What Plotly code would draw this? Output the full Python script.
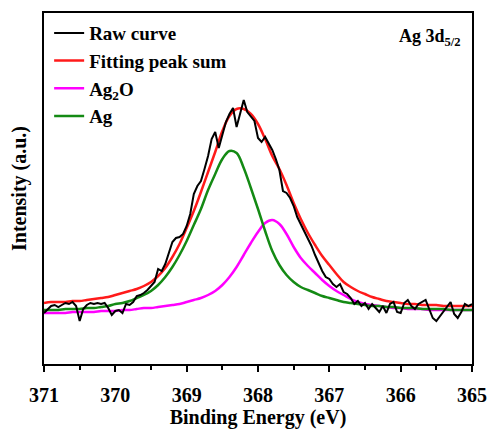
import numpy as np
import plotly.graph_objects as go

# Fit grid (0.1 eV) and raw grid (0.05 eV), binding energy in eV
energy_fit = np.round(np.linspace(371.0, 365.0, 61), 2)
energy_raw = np.round(np.linspace(371.0, 365.0, 121), 2)

ag = [54, 54, 54, 55, 55, 55, 56, 56, 57, 58,
      60, 61, 63, 66, 69, 73, 79, 87, 97, 109,
      123, 139, 155, 174, 190, 205, 213, 211, 196, 176,
      155, 133, 113, 99, 89, 82, 77, 74, 71, 68,
      66, 64, 62, 61, 60, 59, 58, 58, 57, 57,
      56, 56, 56, 55, 55, 55, 55, 54, 54, 54, 54]

ag2o = [51, 51, 51, 51, 52, 52, 52, 52, 53, 53,
        53, 54, 54, 55, 56, 56, 57, 58, 59, 60,
        62, 64, 66, 69, 73, 79, 87, 97, 109, 121,
        132, 141, 144, 140, 130, 117, 106, 98, 91, 84,
        78, 73, 69, 65, 62, 60, 59, 58, 57, 56,
        56, 55, 55, 55, 54, 54, 54, 54, 54, 54, 54]

fit_sum = [61, 62, 62, 62, 63, 63, 64, 65, 66, 67,
           69, 71, 73, 75, 78, 82, 88, 96, 107, 120,
           136, 153, 172, 192, 212, 233, 248, 255, 255, 250,
           240, 225, 208, 195, 179, 161, 145, 131, 119, 108,
           99, 90, 82, 77, 73, 70, 67, 65, 63, 62,
           61, 60, 60, 59, 59, 59, 58, 58, 58, 58, 58]

raw = [51, 55, 58, 59, 57, 59, 61, 60, 62, 58,
       43, 55, 59, 61, 60, 61, 60, 61, 56, 49,
       53, 54, 51, 60, 59, 62, 68, 69, 71, 74,
       78, 82, 95, 93, 100, 110, 122, 126, 127, 130,
       138, 150, 170, 178, 183, 195, 208, 225, 232, 216,
       230, 242, 250, 256, 237, 250, 264, 252, 248, 243,
       226, 222, 227, 220, 214, 205, 194, 173, 171, 166,
       158, 147, 140, 132, 125, 118, 109, 100, 93, 87,
       85, 80, 77, 80, 72, 70, 66, 60, 63, 58,
       61, 55, 60, 56, 52, 58, 51, 60, 62, 52,
       51, 61, 64, 58, 55, 60, 62, 64, 55, 46,
       43, 48, 52, 58, 62, 50, 46, 52, 60, 58, 60]

names = ["Raw curve", "Fitting peak sum", "Ag<sub>2</sub>O", "Ag"]
colors = ["#000000", "#ff1a1a", "#ff00ff", "#148a14"]
x_ticks = [371, 370, 369, 368, 367, 366, 365]

font_family = "Liberation Serif"

fig = go.Figure()
fig.add_trace(go.Scatter(x=energy_fit, y=ag2o, mode="lines", name=names[2],
                         line=dict(color=colors[2], width=2.5, shape="spline"), legendrank=3))
fig.add_trace(go.Scatter(x=energy_fit, y=ag, mode="lines", name=names[3],
                         line=dict(color=colors[3], width=2.5, shape="spline"), legendrank=4))
fig.add_trace(go.Scatter(x=energy_fit, y=fit_sum, mode="lines", name=names[1],
                         line=dict(color=colors[1], width=2.5, shape="spline"), legendrank=2))
fig.add_trace(go.Scatter(x=energy_raw, y=raw, mode="lines", name=names[0],
                         line=dict(color=colors[0], width=2), legendrank=1))

fig.update_layout(
    width=493, height=429,
    margin=dict(l=44, r=21, t=13, b=65, autoexpand=False),
    paper_bgcolor="white", plot_bgcolor="white",
    font=dict(family=font_family, size=20, color="black", weight="bold"),
    showlegend=True,
    legend=dict(x=0.012, y=0.997, xanchor="left", yanchor="top",
                bgcolor="rgba(0,0,0,0)", font=dict(size=19, family=font_family, weight="bold"),
                itemwidth=30, tracegroupgap=0),
    xaxis=dict(range=[371, 365], tickvals=x_ticks, ticktext=[str(t) for t in x_ticks],
               automargin=False,
               showline=True, linecolor="black", linewidth=2, mirror=True,
               ticks="outside", ticklen=6, tickwidth=2, tickcolor="black",
               ticklabelstandoff=6, tickfont=dict(size=20),
               minor=dict(dtick=0.5, ticks="outside", ticklen=4, tickwidth=2, tickcolor="black"),
               showgrid=False, zeroline=False,
               title=dict(text="Binding Energy (eV)", font=dict(size=20), standoff=10)),
    yaxis=dict(range=[0, 351], showline=True, linecolor="black", linewidth=2, mirror=True,
               automargin=False,
               showticklabels=False, ticks="", showgrid=False, zeroline=False,
               title=dict(text="Intensity (a.u.)", font=dict(size=20), standoff=10)),
    annotations=[dict(text="Ag 3d<sub>5/2</sub>", x=0.979, y=0.929, xref="paper", yref="paper",
                      xanchor="right", yanchor="middle", showarrow=False,
                      font=dict(size=18, family=font_family, weight="bold"))],
)

fig.write_html("out.html")
